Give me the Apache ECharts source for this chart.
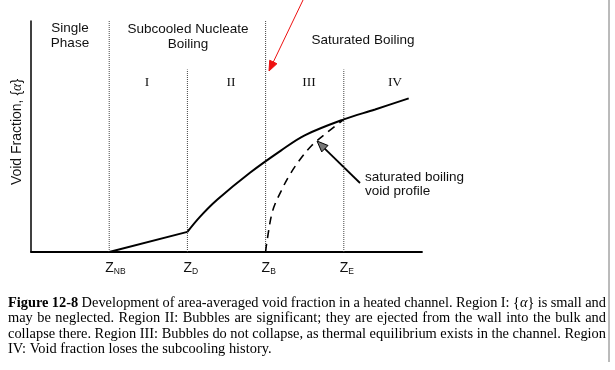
<!DOCTYPE html>
<html><head><meta charset="utf-8">
<script src="https://cdn.jsdelivr.net/npm/echarts@6/dist/echarts.min.js"></script>
<style>html,body{margin:0;padding:0;background:#fff}#c{width:615px;height:370px}</style>
</head><body><div id="c"></div>
<script>
// ---- data ----
const zPositions = [1, 2, 3, 4];
const zSubscripts = ['NB', 'D', 'B', 'E'];
const boundaryTops = [1, 0.79, 1, 0.79];
const subcooledX = [1, 2];
const subcooledY = [0, 0.087];
const boilingX = [2, 2.16, 2.38, 2.8, 3.2, 3.5, 4, 4.4, 4.83];
const boilingY = [0.087, 0.152, 0.226, 0.343, 0.44, 0.505, 0.574, 0.617, 0.665];
const saturatedX = [3, 3.02, 3.09, 3.2, 3.31, 3.44, 3.59, 3.785, 4];
const saturatedY = [0, 0.052, 0.178, 0.265, 0.335, 0.4, 0.461, 0.517, 0.574];
const romanNumerals = ['I', 'II', 'III', 'IV'];
const captionLines = [
  'Figure 12-8 Development of area-averaged void fraction in a heated channel. Region I: {α} is small and',
  'may be neglected. Region II: Bubbles are significant; they are ejected from the wall into the bulk and',
  'collapse there. Region III: Bubbles do not collapse, as thermal equilibrium exists in the channel. Region',
  'IV: Void fraction loses the subcooling history.'
];

const zip = (xs, ys) => xs.map((x, i) => [x, ys[i]]);
const SANS = '"Liberation Sans", Arial, sans-serif';
const SERIF = '"Liberation Serif", "Times New Roman", serif';

const chart = echarts.init(document.getElementById('c'), null, {renderer: 'canvas'});

const series = [];
zPositions.forEach((x, i) => {
  series.push({
    type: 'line', data: [[x, 0], [x, boundaryTops[i]]], symbol: 'none', silent: true,
    lineStyle: {color: '#444', width: 1, type: [1, 1]}, z: 1
  });
});
series.push({type: 'line', data: zip(subcooledX, subcooledY), symbol: 'none',
  lineStyle: {color: '#000', width: 2}, z: 3});
series.push({type: 'line', data: zip(boilingX, boilingY), symbol: 'none', smooth: 0.35,
  lineStyle: {color: '#000', width: 2}, z: 3});
series.push({type: 'line', data: zip(saturatedX, saturatedY), symbol: 'none', smooth: 0.35,
  lineStyle: {color: '#000', width: 1.6, type: [8, 6]}, z: 3});

chart.setOption({
  animation: false,
  backgroundColor: '#fff',
  grid: {left: 31, top: 21, right: 193, bottom: 118, containLabel: false},
  xAxis: {type: 'value', min: 0, max: 5, axisLine: {show: true, onZero: false, lineStyle: {color: '#000', width: 1.8}},
    axisTick: {show: false}, axisLabel: {show: false}, splitLine: {show: false}},
  yAxis: {type: 'value', min: 0, max: 1, axisLine: {show: true, lineStyle: {color: '#000', width: 1.5}},
    axisTick: {show: false}, axisLabel: {show: false}, splitLine: {show: false}},
  series: series
});

// ---- annotations ----
const g = [];
function txt(x, y, text, font, extra) {
  g.push(Object.assign({type: 'text', x: x, y: y, silent: true,
    style: Object.assign({text: text, font: font, fill: '#111', textAlign: 'center', textVerticalAlign: 'middle'}, extra || {})}));
}
function arrow(x1, y1, x2, y2, color, len, half, fill, width) {
  const dx = x2 - x1, dy = y2 - y1, L = Math.hypot(dx, dy), ux = dx / L, uy = dy / L;
  const bx = x2 - ux * len, by = y2 - uy * len;
  g.push({type: 'line', silent: true, shape: {x1: x1, y1: y1, x2: bx + ux * 2, y2: by + uy * 2},
    style: {stroke: color, lineWidth: width}});
  g.push({type: 'polygon', silent: true, shape: {points: [[x2, y2], [bx - uy * half, by + ux * half], [bx + uy * half, by - ux * half]]},
    style: {fill: fill, stroke: color, lineWidth: 1}});
}

txt(70, 28, 'Single', '13.5px ' + SANS);
txt(70, 43, 'Phase', '13.5px ' + SANS);
txt(188, 29, 'Subcooled Nucleate', '13.5px ' + SANS);
txt(188, 44, 'Boiling', '13.5px ' + SANS);
txt(363, 40, 'Saturated Boiling', '13.5px ' + SANS);
const romanX = [147, 231, 309, 395];
romanNumerals.forEach((r, i) => txt(romanX[i], 82, r, '13.5px ' + SERIF));
txt(365, 177, 'saturated boiling', '13.5px ' + SANS, {textAlign: 'left'});
txt(365, 191, 'void profile', '13.5px ' + SANS, {textAlign: 'left'});
g.push({type: 'text', x: 17, y: 132, rotation: Math.PI / 2, silent: true,
  style: {text: 'Void Fraction, \u007B{i|α}\u007D', font: '14px ' + SANS, fill: '#111', textAlign: 'center', textVerticalAlign: 'middle',
    rich: {i: {font: 'italic 14px ' + SERIF, fill: '#111'}}}});

// axis position labels Z_x
zPositions.forEach((v, i) => {
  const p = chart.convertToPixel({gridIndex: 0}, [v, 0]);
  g.push({type: 'text', x: p[0] - 4, y: p[1] + 16, silent: true,
    style: {text: '{z|Z}{s|' + zSubscripts[i] + '}', textAlign: 'left', textVerticalAlign: 'middle',
      rich: {z: {font: '14px ' + SANS, fill: '#111'}, s: {font: '8.5px ' + SANS, fill: '#111', padding: [7, 0, 0, 0]}}}});
});

arrow(360, 183, 317, 141, '#000', 11, 4.5, '#777', 1.8);
arrow(304, -2, 269, 71, '#ee1111', 10, 4, '#ee1111', 1);
g.push({type: 'line', silent: true, shape: {x1: 609, y1: 0, x2: 609, y2: 362}, style: {stroke: '#777', lineWidth: 1}});

// caption (justified)
const cv = document.createElement('canvas').getContext('2d');
const FS = 14.4;
const fNormal = FS + 'px ' + SERIF, fBold = 'bold ' + FS + 'px ' + SERIF, fItal = 'italic ' + FS + 'px ' + SERIF;
function mw(t, f) { cv.font = f; return cv.measureText(t).width; }
const L = 8, R = 606, lineY = [303, 318.5, 334, 349.5];
captionLines.forEach((line, li) => {
  const words = line.split(' ');
  const items = words.map((w, wi) => {
    const bold = li === 0 && wi < 2;
    if (w.indexOf('α') >= 0) {
      return {rich: true, text: '\u007B{i|α}\u007D', w: mw('{', fNormal) * 2 + mw('α', fItal)};
    }
    return {text: w, font: bold ? fBold : fNormal, w: mw(w, bold ? fBold : fNormal)};
  });
  const total = items.reduce((a, b) => a + b.w, 0);
  const gap = li < captionLines.length - 1 ? (R - L - total) / (items.length - 1) : mw(' ', fNormal);
  let x = L;
  items.forEach(it => {
    const st = {text: it.text, font: it.font || fNormal, fill: '#000', textAlign: 'left', textVerticalAlign: 'middle'};
    if (it.rich) st.rich = {i: {font: fItal, fill: '#000'}};
    g.push({type: 'text', x: x, y: lineY[li], silent: true, style: st});
    x += it.w + gap;
  });
});

chart.setOption({graphic: g});
</script></body></html>
